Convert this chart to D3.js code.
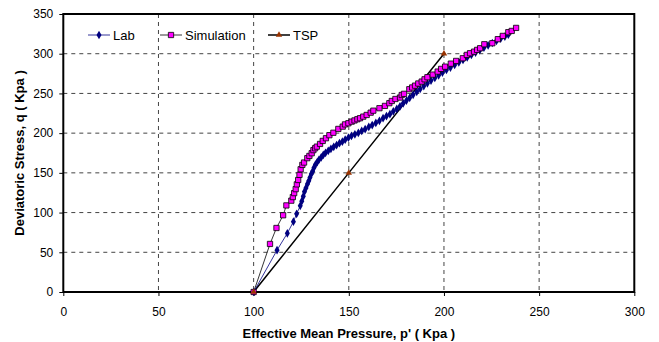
<!DOCTYPE html>
<html><head><meta charset="utf-8">
<script src="https://cdn.jsdelivr.net/npm/d3@7"></script>
<style>body{margin:0;background:#fff}svg{display:block}</style>
</head><body>
<svg id="c" width="659" height="342"></svg>
<script>
const labP=[100,112.3,117.7,120.9,122.6,124.5,125.3,126.1,126.7,127.5,128.3,129,129.6,130.3,131,131.7,132.5,133.4,134.3,135.5,136.6,137.8,139.2,140.6,142.1,143.6,145.1,146.6,148.1,149.8,151.4,153.2,155,156.8,158.6,160.5,162.3,164.2,166.1,168,169.8,171.6,173.4,175.2,176.9,178.6,180.3,182,183.8,185.7,187.5,189.4,191.3,193.2,195.2,197.2,199.2,201.3,203.4,205.6,207.8,210,212.2,214.4,216.6,218.8,221,223.2,225.4,227.6,229.8,232,233.8];
const labQ=[0,52.7,73.9,88.6,98.5,108.5,114.3,120.5,126.3,131,136,140,144,148.5,152,156.5,160.5,163.5,166.5,169.5,172.5,175.3,177.8,180.3,182.8,185,187.3,189.3,191.8,194.3,196.5,198.5,200.2,202.8,205,207.8,210.2,212.8,215.5,218.8,221.5,223.8,227.5,230.5,233.8,237.5,241,244.5,248.2,252,255.6,259.2,262.8,266.2,269.5,272.8,276.2,279.5,282.6,285.8,289,292.2,295.3,298.4,301.5,304.5,307.5,310.5,313.5,316.3,319,321.6,324];
const simP=[100,108.6,112,115.5,117.2,119.8,120.6,121.3,122.1,122.7,123.4,124.1,124.7,125.6,126.5,128.2,129.3,130.5,131.4,132.3,133.2,134.9,136.3,138,139.8,141.9,144.5,146.8,148,149.8,151.5,153,154.5,155.9,157.6,159.4,161.5,162.9,166.1,169,171.3,172.6,174.5,176.9,177.8,179,181.8,183.3,184.8,186.5,188.3,189.8,191.3,194.1,196.7,198.5,200.6,203.6,206.4,209.9,212,213.7,215.8,217.4,219,221.2,225.4,228.3,230.9,233.8,235.6,237.9];
const simQ=[0,60.5,80.6,96.6,109,115,119.5,124.5,129.5,135.5,141,147.5,154.5,160,163,168.5,171.3,174.7,178.6,181,183,186.4,190.2,193.6,197.4,200.5,205.3,208.2,211,212.5,214.5,216,217.5,218.8,220.8,222.9,225.8,228.3,231.4,234.3,237.7,240.5,243,244.8,248,249.5,255.3,257.5,259.8,262.5,264.9,267.8,270.4,273.7,277.5,280.9,283.7,287.5,290.9,294.3,298.5,300.6,302.6,304.8,306.9,311.9,313.2,318.3,322.4,327.1,328.7,332.5];
const tspP=[100,150,200];
const tspQ=[0,150,300];
const xTicks=[0,50,100,150,200,250,300];
const yTicks=[0,50,100,150,200,250,300,350];
const seriesNames=["Lab","Simulation","TSP"];
const xTitle="Effective Mean Pressure, p' ( Kpa )";
const yTitle="Deviatoric Stress, q ( Kpa )";

const svg=d3.select("#c");
const L=63.3,R=634.3,T=14,B=292;
const x=d3.scaleLinear().domain([0,300]).range([L,R]);
const y=d3.scaleLinear().domain([0,350]).range([B,T]);
const font="'Liberation Sans', Arial, sans-serif";

// grid
const g=svg.append("g");
g.selectAll("line.v").data(xTicks.filter(d=>d>0&&d<300)).join("line")
 .attr("x1",d=>x(d)).attr("x2",d=>x(d)).attr("y1",T).attr("y2",B)
 .attr("stroke","#444").attr("stroke-width",1).attr("stroke-dasharray","4,4");
g.selectAll("line.h").data(yTicks.filter(d=>d>0&&d<350)).join("line")
 .attr("y1",d=>y(d)).attr("y2",d=>y(d)).attr("x1",L).attr("x2",R)
 .attr("stroke","#444").attr("stroke-width",1).attr("stroke-dasharray","4,4");

// axes
const xa=svg.append("g").attr("transform",`translate(0,${B})`)
 .call(d3.axisBottom(x).tickValues(xTicks).tickSize(4).tickPadding(11));
const ya=svg.append("g").attr("transform",`translate(${L},0)`)
 .call(d3.axisLeft(y).tickValues(yTicks).tickSize(4).tickPadding(6));
[xa,ya].forEach(a=>{a.select(".domain").remove();
 a.selectAll("line").attr("stroke","#000");
 a.selectAll("text").attr("font-family",font).attr("font-size",12).attr("fill","#000");});

// border
svg.append("rect").attr("x",L).attr("y",T).attr("width",R-L).attr("height",B-T)
 .attr("fill","none").attr("stroke","#000").attr("stroke-width",2);

// titles
svg.append("text").attr("x",(L+R)/2).attr("y",338).attr("text-anchor","middle")
 .attr("font-family",font).attr("font-size",13).attr("font-weight","bold").text(xTitle);
svg.append("text").attr("transform",`translate(24,${(T+B)/2}) rotate(-90)`).attr("text-anchor","middle")
 .attr("font-family",font).attr("font-size",13).attr("font-weight","bold").text(yTitle);

const line=d3.line().x(d=>x(d[0])).y(d=>y(d[1]));
const lab=labP.map((p,i)=>[p,labQ[i]]);
const sim=simP.map((p,i)=>[p,simQ[i]]);
const tsp=tspP.map((p,i)=>[p,tspQ[i]]);

const diamond=d3.symbol().type(d3.symbolDiamond).size(22);
const square=d3.symbol().type(d3.symbolSquare).size(28);
const tri=d3.symbol().type(d3.symbolTriangle).size(18);

// TSP
svg.append("path").datum(tsp).attr("d",line).attr("fill","none").attr("stroke","#000").attr("stroke-width",1.5);
// Simulation
svg.append("path").datum(sim).attr("d",line).attr("fill","none").attr("stroke","#000").attr("stroke-width",0.8);
// Lab
svg.append("path").datum(lab).attr("d",line).attr("fill","none").attr("stroke","#000080").attr("stroke-width",0.8);
svg.selectAll("path.lab").data(lab).join("path").attr("class","lab")
 .attr("transform",d=>`translate(${x(d[0])},${y(d[1])})`).attr("d",diamond).attr("fill","#000080");
svg.selectAll("path.sim").data(sim).join("path").attr("class","sim")
 .attr("transform",d=>`translate(${x(d[0])},${y(d[1])})`).attr("d",square)
 .attr("fill","#ff00ff").attr("stroke","#000").attr("stroke-width",0.8);
svg.selectAll("path.tsp").data(tsp).join("path").attr("class","tsp")
 .attr("transform",d=>`translate(${x(d[0])},${y(d[1])})`).attr("d",tri).attr("fill","#993300");

// legend
const leg=[{n:seriesNames[0],x1:88,x2:110,tx:113,c:"#000080",sym:diamond,f:"#000080",s:"none",w:0.8},
 {n:seriesNames[1],x1:160,x2:182,tx:185,c:"#000",sym:square,f:"#ff00ff",s:"#000",w:0.8},
 {n:seriesNames[2],x1:268,x2:290,tx:293,c:"#000",sym:tri,f:"#993300",s:"none",w:1.5}];
const ly=35;
leg.forEach(o=>{
 svg.append("line").attr("x1",o.x1).attr("x2",o.x2).attr("y1",ly).attr("y2",ly).attr("stroke",o.c).attr("stroke-width",o.w);
 svg.append("path").attr("transform",`translate(${(o.x1+o.x2)/2},${ly})`).attr("d",o.sym).attr("fill",o.f).attr("stroke",o.s).attr("stroke-width",0.8);
 svg.append("text").attr("x",o.tx).attr("y",ly+4.5).attr("font-family",font).attr("font-size",13).text(o.n);
});
</script>
</body></html>
